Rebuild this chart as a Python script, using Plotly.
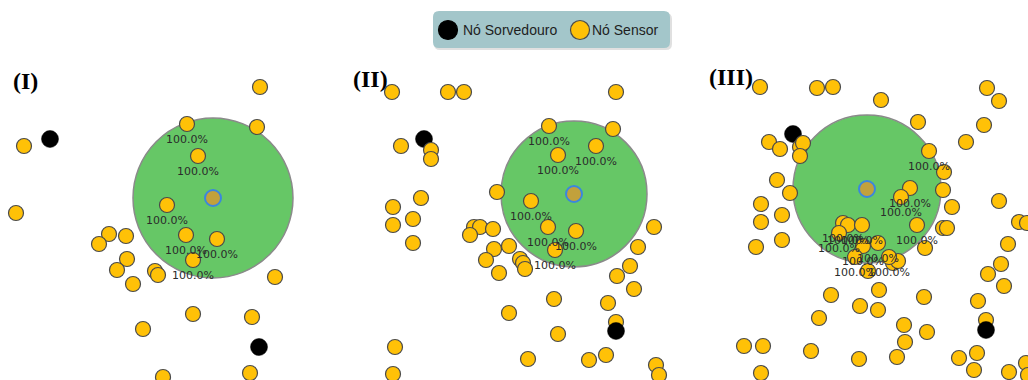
import plotly.graph_objects as go

# ---- panel layout (page pixel units used as the coordinate system) ----
W, H = 1028, 380
panel_ranges = [(0, 340), (340, 690), (690, 1028)]
panel_titles = ["(I)", "(II)", "(III)"]
title_pos = [(11, 81), (351, 79), (707, 77)]

# ---- panel I ----
p1_sensor_x = [260, 257, 24, 16, 109, 126, 99, 127, 117, 155, 158, 133, 275, 193, 252, 143, 163, 250]
p1_sensor_y = [87, 127, 146, 213, 234, 236, 244, 259, 270, 271, 275, 284, 277, 314, 317, 329, 377, 373]
p1_cov_x = [187, 198, 167, 186, 217, 193]
p1_cov_y = [124, 156, 205, 235, 239, 260]
p1_cov_pct = [100.0, 100.0, 100.0, 100.0, 100.0, 100.0]
p1_sink_x = [50, 259]
p1_sink_y = [139, 347]
p1_zone = (213, 198, 80)  # centre x, centre y, radius

# ---- panel II ----
p2_sensor_x = [392, 448, 464, 616, 613, 401, 431, 431, 497, 421, 393, 413, 393, 413, 474, 480, 470, 493,
               654, 509, 494, 638, 486, 520, 523, 525, 499, 630, 617, 634, 554, 608, 509, 616, 558, 395,
               606, 528, 589, 656, 659, 393]
p2_sensor_y = [92, 92, 92, 92, 129, 146, 150, 159, 192, 198, 207, 219, 225, 243, 227, 227, 235, 229,
               227, 246, 249, 247, 260, 259, 263, 269, 273, 266, 276, 289, 299, 303, 313, 322, 334, 347,
               355, 359, 360, 365, 375, 374]
p2_cov_x = [549, 596, 558, 531, 548, 576, 555]
p2_cov_y = [126, 146, 155, 201, 227, 231, 250]
p2_cov_pct = [100.0, 100.0, 100.0, 100.0, 100.0, 100.0, 100.0]
p2_sink_x = [424, 616]
p2_sink_y = [139, 331]
p2_zone = (574, 194, 73)

# ---- panel III ----
p3_sensor_x = [760, 817, 833, 881, 987, 999, 1030, 918, 984, 769, 780, 800, 803, 800, 966, 944, 777, 943,
               790, 761, 999, 952, 782, 761, 756, 782, 1019, 1027, 943, 947, 1008, 925, 893, 898, 868,
               1001, 988, 1004, 879, 831, 924, 978, 860, 878, 819, 986, 904, 927, 905, 744, 763, 811,
               977, 959, 859, 897, 974, 1009, 1026, 1028, 761]
p3_sensor_y = [87, 88, 87, 100, 88, 101, 117, 122, 125, 142, 149, 147, 143, 156, 142, 172, 180, 190,
               193, 204, 201, 207, 215, 222, 247, 240, 222, 223, 228, 228, 244, 248, 263, 261, 271,
               264, 274, 286, 290, 295, 297, 301, 306, 310, 318, 320, 325, 332, 342, 346, 346, 351,
               353, 358, 359, 357, 370, 372, 363, 375, 373]
p3_cov_x = [929, 910, 901, 917, 843, 848, 862, 839, 863, 878, 855, 889]
p3_cov_y = [151, 188, 197, 225, 223, 225, 225, 233, 246, 243, 257, 257]
p3_cov_pct = [100.0] * 12
p3_sink_x = [793, 986]
p3_sink_y = [134, 330]
p3_zone = (867, 189, 74)

panels = [
    (p1_sensor_x, p1_sensor_y, p1_cov_x, p1_cov_y, p1_cov_pct, p1_sink_x, p1_sink_y, p1_zone),
    (p2_sensor_x, p2_sensor_y, p2_cov_x, p2_cov_y, p2_cov_pct, p2_sink_x, p2_sink_y, p2_zone),
    (p3_sensor_x, p3_sensor_y, p3_cov_x, p3_cov_y, p3_cov_pct, p3_sink_x, p3_sink_y, p3_zone),
]

# ---- styles ----
SENSOR_FILL = "#ffc107"
SENSOR_LINE = "#4a4a4a"
ZONE_FILL = "#66c766"
ZONE_LINE = "#8a8a8a"
CENTER_FILL = "#c2a13c"
CENTER_LINE = "#3b86de"
LEGEND_BG = "#a3c6ca"
LABEL_COLOR = "#2b2b2b"

sensor_marker = dict(size=15, color=SENSOR_FILL, line=dict(color=SENSOR_LINE, width=1.2))
sink_marker = dict(size=17, color="black", line=dict(color="black", width=0.5))

fig = go.Figure()
shapes = []
annotations = []

for i, (sx, sy, cx, cy, cpct, kx, ky, zone) in enumerate(panels):
    xa = "x" if i == 0 else f"x{i + 1}"
    zx, zy, zr = zone
    shapes.append(dict(type="circle", xref=xa, yref="y", layer="below",
                       x0=zx - zr, x1=zx + zr, y0=zy - zr, y1=zy + zr,
                       fillcolor=ZONE_FILL, line=dict(color=ZONE_LINE, width=1.5)))
    # first sink sits beneath the sensor layer, the second on top of it
    fig.add_trace(go.Scatter(x=kx[:1], y=ky[:1], xaxis=xa, yaxis="y", mode="markers",
                             marker=sink_marker, hoverinfo="skip", showlegend=False,
                             cliponaxis=False))
    fig.add_trace(go.Scatter(x=sx, y=sy, xaxis=xa, yaxis="y", mode="markers",
                             marker=sensor_marker, hoverinfo="skip", showlegend=False,
                             cliponaxis=False))
    fig.add_trace(go.Scatter(x=cx, y=cy, xaxis=xa, yaxis="y", mode="markers+text",
                             marker=sensor_marker, text=[f"{p:.1f}%" for p in cpct],
                             textposition="bottom center",
                             textfont=dict(family="DejaVu Sans", size=11, color=LABEL_COLOR),
                             hoverinfo="skip", showlegend=False, cliponaxis=False))
    fig.add_trace(go.Scatter(x=kx[1:], y=ky[1:], xaxis=xa, yaxis="y", mode="markers",
                             marker=sink_marker, hoverinfo="skip", showlegend=False,
                             cliponaxis=False))
    # zone centre marker
    fig.add_trace(go.Scatter(x=[zx], y=[zy], xaxis=xa, yaxis="y", mode="markers",
                             marker=dict(size=16, color=CENTER_FILL, line=dict(color=CENTER_LINE, width=2)),
                             hoverinfo="skip", showlegend=False))
    tx, ty = title_pos[i]
    annotations.append(dict(xref=xa, yref="y", x=tx, y=ty, xanchor="left", yanchor="middle",
                            text=f"<b>{panel_titles[i]}</b>", showarrow=False,
                            font=dict(family="Liberation Serif", size=24, color="black")))

# ---- legend box (drawn in paper units) ----
def px(x):
    return x / W


def py(y):
    return 1 - y / H


def rounded_rect(x0, y0, x1, y1, r):
    return (f"M {px(x0 + r)},{py(y0)} L {px(x1 - r)},{py(y0)} Q {px(x1)},{py(y0)} {px(x1)},{py(y0 + r)} "
            f"L {px(x1)},{py(y1 - r)} Q {px(x1)},{py(y1)} {px(x1 - r)},{py(y1)} "
            f"L {px(x0 + r)},{py(y1)} Q {px(x0)},{py(y1)} {px(x0)},{py(y1 - r)} "
            f"L {px(x0)},{py(y0 + r)} Q {px(x0)},{py(y0)} {px(x0 + r)},{py(y0)} Z")


legend_labels = ["Nó Sorvedouro", "Nó Sensor"]
legend_fill = ["black", SENSOR_FILL]
legend_line = ["black", SENSOR_LINE]
legend_sym_x = [448, 580]
legend_txt_x = [461, 590]
legend_cy = 30

shapes.append(dict(type="path", xref="paper", yref="paper", path=rounded_rect(434, 13, 672, 50, 6),
                   fillcolor="rgba(0,0,0,0.12)", line=dict(width=0)))
shapes.append(dict(type="path", xref="paper", yref="paper", path=rounded_rect(433, 11, 670, 48, 6),
                   fillcolor=LEGEND_BG, line=dict(width=0)))
for lab, fc, lc, sxp, txp in zip(legend_labels, legend_fill, legend_line, legend_sym_x, legend_txt_x):
    r = 9.5
    shapes.append(dict(type="circle", xref="paper", yref="paper",
                       x0=px(sxp - r), x1=px(sxp + r), y0=py(legend_cy + r), y1=py(legend_cy - r),
                       fillcolor=fc, line=dict(color=lc, width=1.2)))
    annotations.append(dict(xref="paper", yref="paper", x=px(txp), y=py(legend_cy),
                            xanchor="left", yanchor="middle", text=lab, showarrow=False,
                            font=dict(family="Liberation Sans", size=14, color="#1e1e1e")))

layout = dict(width=W, height=H, margin=dict(l=0, r=0, t=0, b=0),
              paper_bgcolor="white", plot_bgcolor="white", showlegend=False,
              shapes=shapes, annotations=annotations,
              yaxis=dict(range=[H, 0], domain=[0, 1], visible=False, fixedrange=True))
for i, (a, b) in enumerate(panel_ranges):
    key = "xaxis" if i == 0 else f"xaxis{i + 1}"
    layout[key] = dict(range=[a, b], domain=[a / W, b / W], visible=False, anchor="y", fixedrange=True)

fig.update_layout(**layout)
fig.write_html("out.html")
